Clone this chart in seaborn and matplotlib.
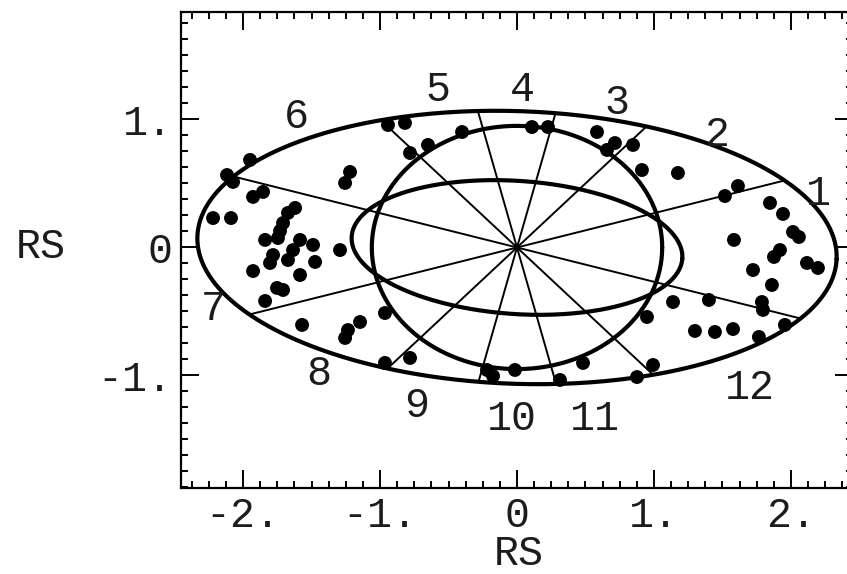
import numpy as np
import pandas as pd
import matplotlib
matplotlib.use("Agg")
import matplotlib.pyplot as plt
import seaborn as sns
from matplotlib.ticker import FixedLocator, FixedFormatter, MultipleLocator

sns.set_theme(style="white")
plt.rcParams["font.family"] = ["Liberation Mono", "DejaVu Sans"]

# ---------------- data ----------------
x_ticks = [-2, -1, 0, 1, 2]
x_tick_labels = ["-2.", "-1.", "0", "1.", "2."]
y_ticks = [-1, 0, 1]
y_tick_labels = ["-1.", "0", "1."]

dots_x = [-1.949, -2.117, -2.073, -1.854, -1.927, -1.219, -1.255, -2.219, -2.088,
          -1.620, -1.672, -1.708, -1.730, -1.839, -1.745, -1.584, -1.489, -1.635,
          -1.292, -1.781, -1.803, -1.672, -1.474, -1.927, -1.584, -1.752, -1.708,
          -1.839,
          -1.569, -1.146, -1.234, -1.255, -0.964, -0.964, -0.781,
          -0.942, -0.818, -0.781, -0.650, -0.401,
          0.109, 0.226, 0.584, 0.715, 0.657, 0.847, 0.912, 1.175,
          1.613, 1.518, 1.847, 1.942, 2.015, 2.058, 1.584, 1.920, 1.876, 2.117,
          2.197, 1.723, 1.861, 1.401, 1.788, 1.796, 1.956, 1.299, 1.445, 1.577,
          1.766, 1.139, 0.949, 0.993, 0.876,
          -0.219, -0.175, -0.015, 0.314, 0.482]
dots_y = [0.684, 0.566, 0.512, 0.434, 0.395, 0.590, 0.504, 0.230, 0.230,
          0.309, 0.270, 0.191, 0.129, 0.059, 0.074, 0.059, 0.020, -0.020,
          -0.020, -0.059, -0.121, -0.098, -0.113, -0.184, -0.215, -0.316, -0.332,
          -0.418,
          -0.605, -0.582, -0.645, -0.707, -0.512, -0.902, -0.863,
          0.957, 0.973, 0.738, 0.801, 0.902,
          0.941, 0.941, 0.902, 0.816, 0.762, 0.801, 0.605, 0.582,
          0.480, 0.402, 0.348, 0.262, 0.121, 0.082, 0.059, -0.020, -0.074, -0.121,
          -0.160, -0.176, -0.293, -0.410, -0.426, -0.488, -0.605, -0.652, -0.660, -0.637,
          -0.699, -0.426, -0.543, -0.918, -1.012,
          -0.957, -1.004, -0.957, -1.035, -0.902]

# ellipses: semi-axis along x, semi-axis along y, tilt (degrees)
ell_a = [2.335, 1.06, 1.21]
ell_b = [1.065, 0.95, 0.52]
ell_tilt = [-2.2, 0.0, -4.2]

spoke_angles = [15, 45, 75, 105, 135, 165, 195, 225, 255, 285, 315, 345]

label_text = ["1", "2", "3", "4", "5", "6", "7", "8", "9", "10", "11", "12"]
label_x = [2.20, 1.46, 0.73, 0.04, -0.58, -1.61, -2.22, -1.45, -0.73, -0.04, 0.57, 1.70]
label_y = [0.42, 0.88, 1.125, 1.23, 1.23, 1.02, -0.48, -0.99, -1.24, -1.34, -1.34, -1.10]

# ---------------- figure ----------------
W, H = 847, 574
fig = plt.figure(figsize=(W / 100, H / 100), dpi=100)
left_px, right_px, top_px, bot_px = 181, 853, 11.7, 488
ax = fig.add_axes([left_px / W, 1 - bot_px / H, (right_px - left_px) / W, (bot_px - top_px) / H])

# ellipses
t = np.linspace(0, 2 * np.pi, 400)
for a, b, tilt in zip(ell_a, ell_b, ell_tilt):
    th = np.deg2rad(tilt)
    ex = a * np.cos(t) * np.cos(th) - b * np.sin(t) * np.sin(th)
    ey = a * np.cos(t) * np.sin(th) + b * np.sin(t) * np.cos(th)
    ax.plot(ex, ey, color="black", lw=3.0, solid_capstyle="round")

# spokes from the centre to the outer ellipse
a0, b0, th0 = ell_a[0], ell_b[0], np.deg2rad(ell_tilt[0])
for ang in spoke_angles:
    al = np.deg2rad(ang)
    r = 1.0 / np.sqrt(np.cos(al - th0) ** 2 / a0 ** 2 + np.sin(al - th0) ** 2 / b0 ** 2)
    ax.plot([0, r * np.cos(al)], [0, r * np.sin(al)], color="black", lw=1.4)

# dots
df = pd.DataFrame({"x": dots_x, "y": dots_y})
sns.scatterplot(data=df, x="x", y="y", ax=ax, color="black", s=100,
                edgecolor="none", linewidth=0, zorder=5)

# spoke labels
txt_color = "#1c1c1c"
for s, lx, ly in zip(label_text, label_x, label_y):
    ax.text(lx, ly, s, ha="center", va="center", fontsize=30, color=txt_color)

# axes
ax.set_xlim(-2.453, 2.453)
ax.set_ylim(-1.879, 1.842)
ax.xaxis.set_major_locator(FixedLocator(x_ticks))
ax.xaxis.set_major_formatter(FixedFormatter(x_tick_labels))
ax.yaxis.set_major_locator(FixedLocator(y_ticks))
ax.yaxis.set_major_formatter(FixedFormatter(y_tick_labels))
ax.xaxis.set_minor_locator(MultipleLocator(0.125))
ax.yaxis.set_minor_locator(MultipleLocator(0.125))
ax.tick_params(which="both", direction="in", top=True, right=True,
               bottom=True, left=True, color="black", width=1.4)
ax.tick_params(which="major", length=13, labelsize=30, pad=6, labelcolor=txt_color)
ax.tick_params(which="minor", length=5)
for sp in ax.spines.values():
    sp.set_visible(True)
    sp.set_color("black")
    sp.set_linewidth(1.6)

ax.set_xlabel("RS", fontsize=30, color=txt_color)
ax.set_ylabel("RS", fontsize=30, color=txt_color, rotation=0)
ax.xaxis.set_label_coords((519 - left_px) / (right_px - left_px), (bot_px - 554) / (bot_px - top_px))
ax.xaxis.label.set_va("center")
ax.yaxis.set_label_coords((41 - left_px) / (right_px - left_px), 0.5 + (((bot_px + top_px) / 2) - 247) / (bot_px - top_px))
ax.yaxis.label.set_va("center")
ax.yaxis.label.set_ha("center")
ax.set_facecolor("white")
fig.patch.set_facecolor("white")

fig.savefig("out.png", dpi=100)
